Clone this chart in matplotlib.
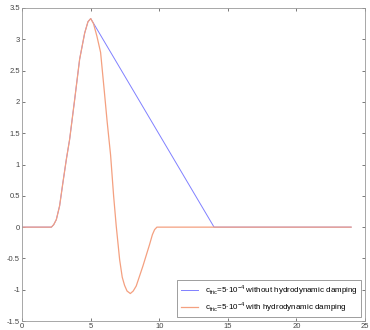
import numpy as np
import matplotlib
matplotlib.use('Agg')
import matplotlib.pyplot as plt

plt.rcParams['font.family'] = ['Liberation Sans', 'DejaVu Sans']
plt.rcParams['mathtext.fontset'] = 'custom'
plt.rcParams['mathtext.rm'] = 'Liberation Sans'

# rise shared by both runs
rise_x = [0.0, 2.0, 2.13, 2.3, 2.49, 2.73, 2.97, 3.22, 3.46, 3.83, 4.19, 4.56, 4.8, 5.0]
rise_y = [0.0, 0.0, 0.0, 0.04, 0.12, 0.34, 0.71, 1.08, 1.40, 2.04, 2.68, 3.10, 3.28, 3.33]

# without hydrodynamic damping
dry_x = rise_x + [14.0, 24.0]
dry_y = rise_y + [0.0, 0.0]

# with hydrodynamic damping
wet_x = rise_x + [5.2, 5.45, 5.72, 6.0, 6.2, 6.45, 6.67, 6.86, 7.11, 7.3, 7.47,
                  7.65, 7.89, 8.1, 8.32, 8.81, 9.29, 9.5, 9.66, 9.83, 24.0]
wet_y = rise_y + [3.25, 3.05, 2.79, 2.15, 1.68, 1.15, 0.50, 0.02, -0.52, -0.80, -0.93,
                  -1.02, -1.06, -1.02, -0.94, -0.62, -0.28, -0.12, -0.04, 0.0, 0.0]

label_dry = r'c$_{\mathregular{fric}}$=5$\cdot$10$^{\mathregular{-4}}$ without hydrodynamic damping'
label_wet = r'c$_{\mathregular{fric}}$=5$\cdot$10$^{\mathregular{-4}}$ with hydrodynamic damping'

fig = plt.figure(figsize=(3.7, 3.3), dpi=100)
ax = fig.add_axes([0.06, 0.027, 0.926, 0.949])

ax.plot(dry_x, dry_y, color='#8080ff', linewidth=0.7, label=label_dry)
ax.plot(wet_x, wet_y, color='#f4a080', linewidth=0.9, label=label_wet)

ax.set_xlim(0, 25)
ax.set_ylim(-1.5, 3.5)
ax.set_xticks([0, 5, 10, 15, 20, 25])
ax.set_yticks([-1.5, -1, -0.5, 0, 0.5, 1, 1.5, 2, 2.5, 3, 3.5])
ax.set_yticklabels(['-1.5', '-1', '-0.5', '0', '0.5', '1', '1.5', '2', '2.5', '3', '3.5'])
ax.tick_params(direction='in', length=2.5, width=0.5, labelsize=5.5, colors='#444444',
               top=True, right=True, pad=1.5)
for s in ax.spines.values():
    s.set_color('#999999')
    s.set_linewidth(0.6)

leg = ax.legend(loc='lower right', fontsize=5.8, frameon=True, fancybox=False,
                handlelength=2.2, borderaxespad=0.5, labelspacing=0.3)
leg.get_frame().set_edgecolor('#555555')
leg.get_frame().set_linewidth(0.5)

fig.savefig('out.png', dpi=100)
